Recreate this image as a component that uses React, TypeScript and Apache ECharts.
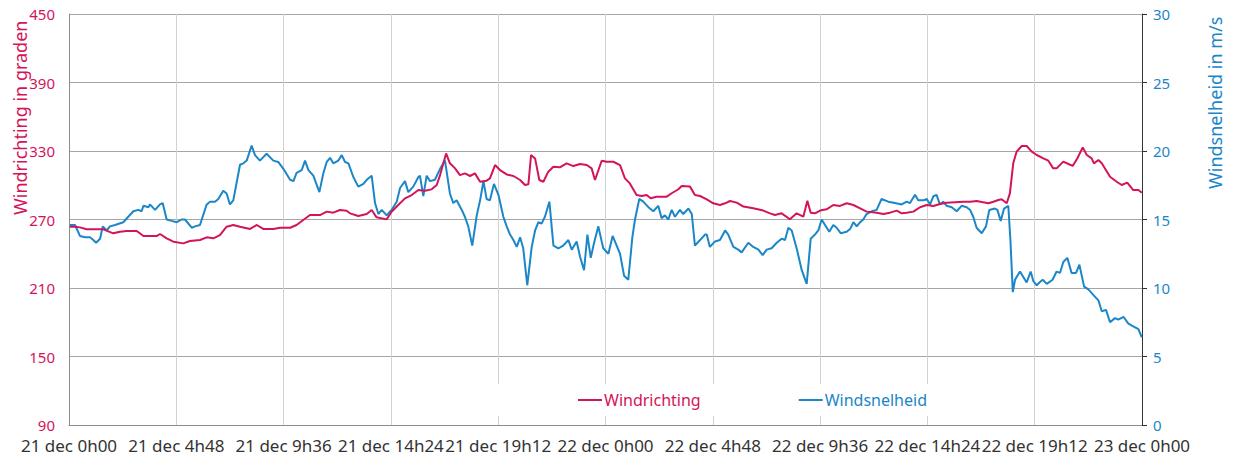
import React, { useEffect, useRef } from "react";
import * as echarts from "echarts";

// Time axis: hours since 21 dec 0h00
const timeLabels = [
  "21 dec 0h00", "21 dec 4h48", "21 dec 9h36", "21 dec 14h24", "21 dec 19h12",
  "22 dec 0h00", "22 dec 4h48", "22 dec 9h36", "22 dec 14h24", "22 dec 19h12",
  "23 dec 0h00",
];

const leftAxisName = "Windrichting in graden";
const rightAxisName = "Windsnelheid in m/s";

// Windrichting (degrees) : [hour, value]
const windrichting: [number, number][] = [
  [0.04, 263.7], [0.27, 263.7], [0.49, 263.1], [0.79, 261.4], [1.09, 261.4], [1.54, 261.4],
  [1.98, 257.9], [2.28, 259.3], [2.58, 259.9], [3.03, 259.9], [3.33, 255.5], [3.92, 255.5],
  [4.07, 257.3], [4.37, 253.5], [4.67, 250.6], [5.11, 249.1], [5.41, 251.2], [5.86, 252.0],
  [6.16, 254.4], [6.46, 253.5], [6.75, 256.4], [7.05, 263.7], [7.35, 265.2], [7.65, 263.7],
  [8.10, 261.7], [8.40, 265.2], [8.69, 261.7], [9.14, 261.7], [9.44, 262.8], [9.89, 262.8],
  [10.18, 265.2], [10.48, 269.6], [10.78, 273.9], [11.23, 273.9], [11.53, 276.9], [11.82, 276.0],
  [12.12, 278.3], [12.42, 277.7], [12.57, 275.4], [12.94, 273.1], [13.32, 274.8], [13.54, 278.3],
  [13.76, 271.9], [14.21, 270.1], [14.43, 276.8], [14.73, 282.7], [15.03, 288.5], [15.33, 291.4],
  [15.63, 295.8], [15.93, 295.2], [16.22, 296.4], [16.45, 300.2], [16.60, 308.9], [16.87, 327.9],
  [17.04, 319.2], [17.27, 314.8], [17.49, 308.9], [17.71, 310.4], [17.94, 308.1], [18.16, 310.4],
  [18.39, 303.1], [18.68, 304.0], [18.83, 306.0], [19.06, 317.7], [19.28, 313.3], [19.58, 309.5],
  [19.88, 308.1], [20.18, 304.6], [20.40, 300.2], [20.55, 300.8], [20.67, 326.5], [20.85, 323.5],
  [21.04, 304.6], [21.22, 303.1], [21.44, 311.9], [21.67, 316.2], [21.96, 315.7], [22.26, 319.2],
  [22.56, 316.8], [22.86, 318.6], [23.16, 317.7], [23.38, 314.8], [23.53, 304.6], [23.83, 321.5],
  [24.05, 320.6], [24.35, 320.6], [24.65, 317.7], [24.87, 306.0], [25.09, 301.6], [25.39, 291.5],
  [25.62, 290.6], [25.84, 291.5], [26.02, 288.6], [26.29, 290.0], [26.74, 290.0], [26.96, 293.0],
  [27.26, 296.5], [27.41, 299.4], [27.78, 298.8], [28.00, 291.5], [28.23, 290.6], [28.53, 287.7],
  [28.82, 284.2], [29.12, 282.7], [29.35, 284.2], [29.57, 286.2], [29.87, 284.8], [30.17, 281.3],
  [30.61, 279.8], [31.06, 277.8], [31.36, 275.4], [31.58, 274.0], [31.88, 275.4], [32.25, 270.2],
  [32.55, 275.4], [32.85, 272.5], [33.03, 286.5], [33.18, 276.0], [33.37, 275.4], [33.60, 277.8],
  [33.89, 278.9], [34.19, 282.7], [34.49, 281.9], [34.79, 284.2], [35.09, 282.7], [35.39, 279.8],
  [35.68, 276.9], [36.13, 276.0], [36.43, 274.8], [36.73, 276.0], [37.03, 277.8], [37.25, 275.4],
  [37.47, 276.0], [37.77, 276.9], [38.07, 280.7], [38.37, 282.7], [38.67, 281.8], [38.96, 283.6],
  [39.26, 284.7], [40.01, 285.6], [40.31, 285.6], [40.60, 286.2], [40.83, 285.3], [41.13, 284.2],
  [41.35, 285.6], [41.57, 287.1], [41.72, 287.7], [41.95, 284.2], [42.09, 292.9], [42.24, 319.2],
  [42.39, 329.4], [42.62, 334.4], [42.84, 334.4], [43.07, 329.4], [43.29, 326.5], [43.59, 323.6],
  [43.81, 321.5], [44.03, 314.8], [44.18, 314.8], [44.48, 320.7], [44.71, 318.6], [44.90, 316.9],
  [45.11, 323.6], [45.35, 333.2], [45.53, 326.5], [45.75, 323.6], [45.85, 319.2], [46.05, 322.1],
  [46.20, 319.2], [46.57, 307.5], [46.87, 303.1], [47.09, 300.2], [47.34, 302.3], [47.61, 295.8],
  [47.84, 295.8], [47.99, 293.5],
];

// Windsnelheid (m/s) : [hour, value]
const windsnelheid: [number, number][] = [
  [0.04, 14.6], [0.27, 14.6], [0.49, 13.8], [0.72, 13.7], [0.94, 13.7], [1.09, 13.5], [1.21, 13.3],
  [1.39, 13.6], [1.51, 14.5], [1.69, 14.2], [1.83, 14.5], [2.06, 14.6], [2.43, 14.8], [2.65, 15.2],
  [2.88, 15.6], [3.10, 15.7], [3.25, 15.6], [3.33, 16.0], [3.55, 15.9], [3.62, 16.1], [3.85, 15.7],
  [4.07, 16.1], [4.19, 16.2], [4.37, 15.0], [4.59, 14.9], [4.82, 14.8], [5.04, 15.0], [5.19, 15.0],
  [5.49, 14.4], [5.64, 14.5], [5.86, 14.6], [6.16, 16.1], [6.31, 16.3], [6.53, 16.3], [6.68, 16.5],
  [6.90, 17.1], [7.05, 16.9], [7.20, 16.1], [7.35, 16.4], [7.65, 19.0], [7.80, 19.1], [7.95, 19.3],
  [8.17, 20.4], [8.32, 19.7], [8.54, 19.3], [8.84, 19.8], [9.14, 19.3], [9.36, 19.2], [9.59, 18.7],
  [9.89, 17.9], [10.04, 17.8], [10.18, 18.4], [10.41, 18.6], [10.56, 19.3], [10.71, 18.6], [10.93, 18.2],
  [11.20, 17.0], [11.38, 18.4], [11.53, 19.2], [11.68, 19.5], [11.82, 19.1], [12.05, 19.3], [12.20, 19.7],
  [12.35, 19.2], [12.50, 19.1], [12.72, 18.1], [12.94, 17.4], [13.17, 17.6], [13.32, 17.9], [13.54, 18.2],
  [13.69, 16.2], [13.84, 15.4], [13.99, 15.7], [14.21, 15.3], [14.43, 15.7], [14.66, 16.3], [14.81, 17.3],
  [15.03, 17.8], [15.18, 17.0], [15.40, 17.4], [15.63, 18.1], [15.70, 18.2], [15.85, 16.7], [16.00, 18.2],
  [16.15, 17.8], [16.37, 17.9], [16.60, 18.7], [16.82, 19.3], [17.04, 16.9], [17.19, 16.2], [17.34, 16.4],
  [17.57, 15.7], [17.71, 15.2], [17.86, 14.5], [18.04, 13.1], [18.24, 15.3], [18.39, 16.4], [18.54, 17.8],
  [18.68, 16.5], [18.83, 16.4], [19.01, 17.6], [19.21, 16.8], [19.43, 15.2], [19.58, 14.5], [19.73, 13.9],
  [19.88, 13.5], [20.03, 13.0], [20.18, 13.7], [20.32, 12.9], [20.50, 10.2], [20.70, 13.0], [20.85, 14.2],
  [21.00, 14.8], [21.14, 14.7], [21.29, 15.2], [21.49, 16.3], [21.67, 13.1], [21.89, 12.9], [22.11, 13.1],
  [22.34, 13.5], [22.49, 12.8], [22.71, 13.4], [22.86, 12.3], [23.04, 11.3], [23.19, 13.9], [23.34, 12.2],
  [23.49, 13.3], [23.68, 14.5], [23.83, 13.4], [23.90, 12.9], [24.13, 12.5], [24.32, 13.8], [24.50, 13.1],
  [24.65, 12.5], [24.83, 10.9], [25.02, 10.6], [25.20, 13.7], [25.32, 15.0], [25.51, 16.5], [25.69, 16.3],
  [25.92, 15.9], [26.14, 15.6], [26.36, 16.0], [26.51, 15.1], [26.66, 15.3], [26.81, 15.0], [26.96, 15.7],
  [27.11, 15.2], [27.33, 15.7], [27.48, 15.4], [27.71, 15.8], [27.86, 15.4], [28.00, 13.1], [28.23, 13.5],
  [28.45, 13.9], [28.53, 13.9], [28.67, 13.0], [28.90, 13.4], [29.12, 13.5], [29.35, 14.2], [29.49, 13.9],
  [29.72, 13.0], [29.94, 12.8], [30.09, 12.6], [30.39, 13.3], [30.61, 13.0], [30.84, 12.8], [31.03, 12.4],
  [31.21, 12.8], [31.43, 12.9], [31.66, 13.3], [31.88, 13.6], [32.03, 13.5], [32.18, 14.4], [32.33, 14.2],
  [32.55, 12.9], [32.78, 11.3], [33.00, 10.3], [33.18, 13.6], [33.37, 13.9], [33.52, 14.2], [33.67, 15.0],
  [33.82, 14.6], [34.01, 14.1], [34.19, 14.6], [34.34, 14.4], [34.52, 14.0], [34.79, 14.1], [34.94, 14.3],
  [35.09, 14.8], [35.24, 14.5], [35.39, 14.8], [35.53, 15.0], [35.68, 15.4], [35.91, 15.6], [36.13, 15.7],
  [36.35, 16.5], [36.65, 16.3], [36.95, 16.2], [37.25, 16.1], [37.47, 16.3], [37.62, 16.2], [37.85, 16.8],
  [37.99, 16.4], [38.22, 16.4], [38.37, 16.5], [38.52, 16.1], [38.67, 16.7], [38.81, 16.8], [38.96, 16.1],
  [39.11, 16.3], [39.26, 16.0], [39.49, 15.9], [39.71, 15.6], [39.93, 16.0], [40.16, 15.9], [40.31, 15.7],
  [40.45, 15.2], [40.60, 14.4], [40.83, 14.0], [41.02, 14.5], [41.17, 15.7], [41.42, 15.8], [41.53, 15.7],
  [41.68, 14.9], [41.83, 15.8], [42.02, 16.0], [42.12, 13.3], [42.22, 9.7], [42.32, 10.6], [42.54, 11.2],
  [42.69, 10.8], [42.84, 10.4], [43.02, 11.2], [43.14, 10.5], [43.29, 10.2], [43.41, 10.4], [43.56, 10.6],
  [43.74, 10.3], [44.00, 10.6], [44.18, 11.2], [44.33, 11.1], [44.48, 11.9], [44.66, 12.2], [44.85, 11.1],
  [45.05, 11.1], [45.20, 11.7], [45.41, 10.1], [45.60, 9.9], [45.82, 9.5], [46.05, 9.1], [46.20, 8.3],
  [46.39, 8.4], [46.57, 7.5], [46.79, 7.8], [46.94, 7.7], [47.17, 7.9], [47.39, 7.4], [47.61, 7.2],
  [47.84, 7.0], [47.99, 6.4],
];

const RED = "#d4145a";
const BLUE = "#1b86c8";
const FONT = "'Noto Sans', sans-serif";

export default function App() {
  const ref = useRef<HTMLDivElement>(null);

  useEffect(() => {
    if (!ref.current) return;
    const chart = echarts.init(ref.current, null, { renderer: "svg" });
    chart.setOption({
      animation: false,
      backgroundColor: "#ffffff",
      textStyle: { fontFamily: FONT },
      grid: { left: 69, right: 93, top: 14, bottom: 34, containLabel: false },
      legend: {
        left: 485,
        top: 384,
        padding: [8, 95, 8, 93],
        backgroundColor: "#ffffff",
        icon: "rect",
        itemWidth: 24,
        itemHeight: 2,
        itemGap: 98,
        textStyle: { fontSize: 16, fontFamily: FONT, padding: [0, 0, 0, -3] },
        data: [
          { name: "Windrichting", textStyle: { color: RED }, itemStyle: { color: RED } },
          { name: "Windsnelheid", textStyle: { color: BLUE }, itemStyle: { color: BLUE } },
        ],
      },
      xAxis: {
        type: "value",
        min: 0,
        max: 48,
        interval: 4.8,
        axisLine: { show: true, lineStyle: { color: "#8c8c8c", width: 1 } },
        axisTick: { show: false },
        splitLine: { show: true, lineStyle: { color: "#d2d2d2", width: 1 } },
        axisLabel: {
          color: "#333333",
          fontSize: 17,
          fontFamily: FONT,
          margin: 12,
          showMinLabel: true,
          showMaxLabel: true,
          hideOverlap: false,
          formatter: (v: number) => timeLabels[Math.round(v / 4.8)] ?? "",
        },
      },
      yAxis: [
        {
          type: "value",
          min: 90,
          max: 450,
          interval: 60,
          position: "left",
          axisLine: { show: true, lineStyle: { color: "#8c8c8c", width: 1 } },
          axisTick: { show: false },
          splitLine: { show: true, lineStyle: { color: "#a6a6a6", width: 1 } },
          axisLabel: { color: RED, fontSize: 15, fontFamily: FONT, margin: 14 },
        },
        {
          type: "value",
          min: 0,
          max: 30,
          interval: 5,
          position: "right",
          axisLine: { show: true, lineStyle: { color: "#333333", width: 1 } },
          axisTick: { show: true, length: 5, lineStyle: { color: "#333333" } },
          splitLine: { show: false },
          axisLabel: { color: BLUE, fontSize: 15, fontFamily: FONT, margin: 11 },
        },
      ],
      graphic: [
        {
          type: "text",
          x: 20,
          y: 215,
          rotation: Math.PI / 2,
          style: {
            text: leftAxisName,
            fill: RED,
            fontSize: 18,
            fontFamily: FONT,
            textAlign: "left",
            textVerticalAlign: "middle",
          },
        },
        {
          type: "text",
          x: 1215,
          y: 189,
          rotation: Math.PI / 2,
          style: {
            text: rightAxisName,
            fill: BLUE,
            fontSize: 18,
            fontFamily: FONT,
            textAlign: "left",
            textVerticalAlign: "middle",
          },
        },
      ],
      series: [
        {
          name: "Windrichting",
          type: "line",
          yAxisIndex: 0,
          data: windrichting,
          symbol: "none",
          lineStyle: { color: RED, width: 2 },
          itemStyle: { color: RED },
          z: 3,
        },
        {
          name: "Windsnelheid",
          type: "line",
          yAxisIndex: 1,
          data: windsnelheid,
          symbol: "none",
          lineStyle: { color: BLUE, width: 2 },
          itemStyle: { color: BLUE },
          z: 2,
        },
      ],
    });
    return () => chart.dispose();
  }, []);

  return (
    <div
      ref={ref}
      style={{ position: "fixed", left: 0, top: 0, width: 1235, height: 459 }}
    />
  );
}
